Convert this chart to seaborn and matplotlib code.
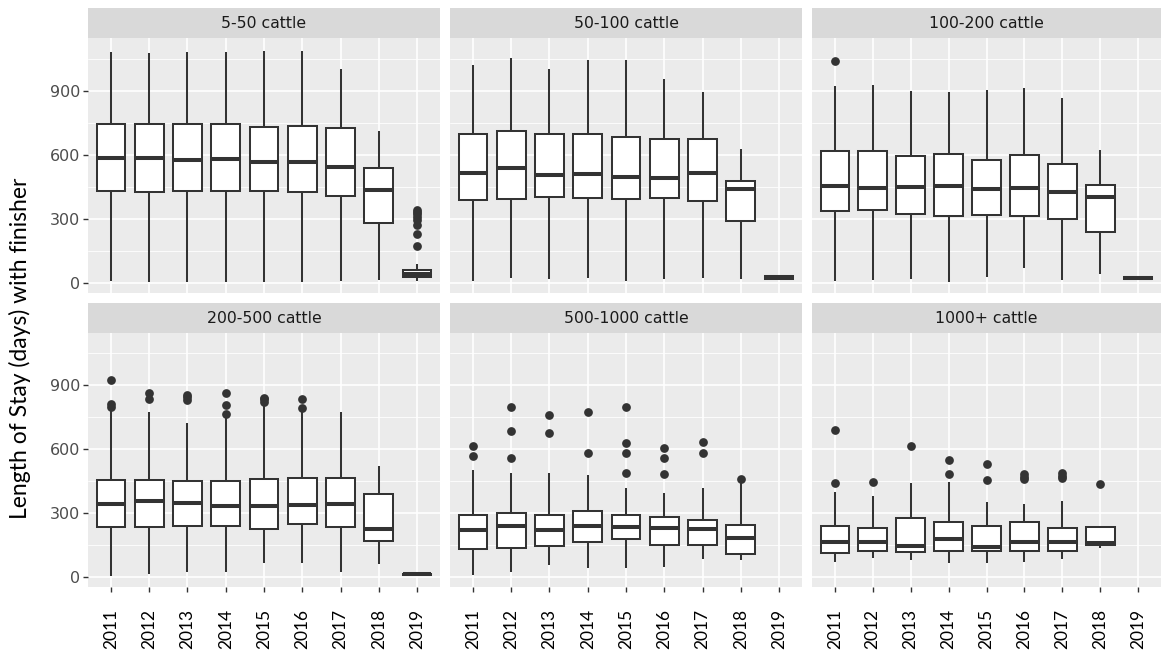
import numpy as np
import pandas as pd
import matplotlib
matplotlib.use("Agg")
import matplotlib.pyplot as plt
from matplotlib.patches import Rectangle
from matplotlib.ticker import FixedLocator
import seaborn as sns

years = ["2011", "2012", "2013", "2014", "2015", "2016", "2017", "2018", "2019"]
herds = ["5-50 cattle", "50-100 cattle", "100-200 cattle",
         "200-500 cattle", "500-1000 cattle", "1000+ cattle"]

# Box summaries per year: (lower whisker, Q1, median, Q3, upper whisker); None = no animals
stats_5_50 = [(11, 433, 585, 746, 1082), (8, 425, 585, 746, 1077), (8, 433, 576, 743, 1082),
              (8, 430, 581, 746, 1082), (8, 430, 568, 730, 1087), (8, 427, 568, 733, 1087),
              (11, 408, 543, 726, 1000), (16, 282, 436, 540, 712), (12, 28, 45, 62, 89)]
stats_50_100 = [(12, 389, 517, 698, 1020), (26, 395, 537, 710, 1054), (22, 403, 506, 699, 1000),
                (26, 397, 512, 698, 1043), (12, 394, 495, 682, 1042), (22, 397, 494, 673, 953),
                (26, 386, 514, 673, 894), (19, 291, 439, 478, 627), (20, 22, 28, 33, 36)]
stats_100_200 = [(12, 338, 456, 617, 922), (17, 343, 445, 617, 926), (22, 322, 448, 593, 900),
                 (8, 315, 455, 603, 894), (30, 319, 439, 578, 903), (73, 316, 447, 601, 912),
                 (16, 300, 427, 557, 867), (44, 238, 405, 459, 621), (20, 22, 26, 30, 32)]
stats_200_500 = [(6, 234, 345, 457, 790), (14, 236, 357, 459, 775), (23, 242, 349, 452, 722),
                 (23, 242, 334, 451, 762), (67, 229, 334, 462, 815), (67, 250, 339, 465, 780),
                 (27, 236, 346, 468, 775), (62, 172, 229, 393, 523), (10, 12, 14, 16, 18)]
stats_500_1000 = [(11, 133, 223, 292, 502), (23, 136, 242, 303, 490), (59, 148, 222, 292, 490),
                  (42, 164, 239, 312, 482), (45, 179, 234, 292, 421), (50, 151, 231, 281, 398),
                  (84, 153, 229, 271, 418), (81, 108, 183, 246, 445), None]
stats_1000_plus = [(73, 114, 167, 242, 401), (89, 122, 167, 232, 382), (81, 117, 148, 279, 443),
                   (67, 123, 178, 261, 448), (67, 122, 144, 240, 354), (70, 125, 164, 259, 345),
                   (86, 125, 164, 232, 357), (140, 151, 161, 234, 234), None]

# Outlying stays per year
out_5_50 = {"2019": [175, 230, 272, 296, 310, 322, 333, 342]}
out_50_100 = {}
out_100_200 = {"2011": [1039]}
out_200_500 = {"2011": [800, 812, 925], "2012": [838, 867], "2013": [831, 845, 856],
               "2014": [768, 810, 867], "2015": [824, 835, 841], "2016": [794, 838]}
out_500_1000 = {"2011": [569, 616], "2012": [560, 686, 799], "2013": [679, 763],
                "2014": [585, 774], "2015": [488, 585, 632, 800], "2016": [484, 560, 605],
                "2017": [585, 636], "2018": [460]}
out_1000_plus = {"2011": [443, 691], "2012": [449], "2013": [616], "2014": [484, 549],
                 "2015": [456, 530], "2016": [460, 473, 487], "2017": [465, 476, 488],
                 "2018": [438]}

all_stats = [stats_5_50, stats_50_100, stats_100_200, stats_200_500, stats_500_1000, stats_1000_plus]
all_out = [out_5_50, out_50_100, out_100_200, out_200_500, out_500_1000, out_1000_plus]

rows = []
for herd, stats, outs in zip(herds, all_stats, all_out):
    for yr, s in zip(years, stats):
        if s is None:
            continue
        for v in s:
            rows.append((herd, yr, v, "box"))
    for yr, vals in outs.items():
        for v in vals:
            rows.append((herd, yr, v, "outlier"))
df = pd.DataFrame(rows, columns=["herd", "year", "days", "kind"])

INK = "#333333"
PANEL = "#EBEBEB"
STRIP = "#D9D9D9"

sns.set_theme(style="whitegrid", rc={"axes.facecolor": PANEL, "grid.color": "white",
                                     "axes.edgecolor": PANEL, "figure.facecolor": "white"})
plt.rcParams["font.family"] = ["DejaVu Sans"]


def draw(data, **kws):
    ax = plt.gca()
    box = data[data["kind"] == "box"]
    pts = data[data["kind"] == "outlier"]
    sns.boxplot(data=box, x="year", y="days", order=years, whis=(0, 100), width=0.75,
                color="white", linecolor=INK, linewidth=1.45, showcaps=False,
                medianprops=dict(linewidth=2.9, color=INK), saturation=1, ax=ax)
    if len(pts):
        sns.stripplot(data=pts, x="year", y="days", order=years, jitter=False,
                      color=INK, size=6.3, linewidth=0, ax=ax)


g = sns.FacetGrid(df, col="herd", col_order=herds, col_wrap=3, sharex=True, sharey=True,
                  height=3, aspect=1.2, despine=False)
g.map_dataframe(draw)
g.set_titles("")
g.set_axis_labels("", "")

fig = g.figure
fig.set_size_inches(11.61, 6.53)
W, H = 1161, 653
col_x = [(88, 440), (450, 802), (812, 1161)]
row_y = [(38, 293), (333, 587)]
strip_h = 30

for i, ax in enumerate(g.axes.flat):
    r, c = divmod(i, 3)
    x0, x1 = col_x[c]
    y0, y1 = row_y[r]
    ax.set_position([x0 / W, 1 - y1 / H, (x1 - x0) / W, (y1 - y0) / H])
    ax.set_xlim(-0.6, 8.6)
    ax.set_ylim(-45, 1146)
    ax.set_facecolor(PANEL)
    for sp in ax.spines.values():
        sp.set_visible(False)
    ax.yaxis.set_major_locator(FixedLocator([0, 300, 600, 900]))
    ax.yaxis.set_minor_locator(FixedLocator([150, 450, 750, 1050]))
    ax.set_axisbelow(True)
    ax.grid(True, which="major", axis="both", color="white", linewidth=1.2)
    ax.grid(True, which="minor", axis="y", color="white", linewidth=0.6)
    ax.tick_params(which="minor", length=0)
    ax.set_xlabel("")
    ax.set_ylabel("")

    # facet strip
    hfrac = strip_h / (y1 - y0)
    ax.add_patch(Rectangle((0, 1), 1, hfrac, transform=ax.transAxes, clip_on=False,
                           facecolor=STRIP, edgecolor="none", zorder=5))
    ax.text(0.5, 1 + hfrac / 2, herds[i], transform=ax.transAxes, ha="center", va="center",
            fontsize=11.3, color="#1A1A1A", zorder=6)

    if c == 0:
        ax.tick_params(axis="y", which="major", left=True, length=3.5, width=1.0, color=INK,
                       labelleft=True, labelsize=11.5, labelcolor="#4D4D4D", pad=2)
    else:
        ax.tick_params(axis="y", which="major", left=False, labelleft=False)

    if r == 1:
        ax.set_xticks(range(len(years)))
        ax.set_xticklabels(years, rotation=90, fontsize=12.5, family="Lato", color="black")
        ax.tick_params(axis="x", which="major", bottom=True, length=3.5, width=1.0, color=INK,
                       labelbottom=True, pad=12)
    else:
        ax.tick_params(axis="x", which="major", bottom=False, labelbottom=False)

fig.text(20 / W, 1 - 348 / H, "Length of Stay (days) with finisher", rotation=90,
         ha="center", va="center", fontsize=16.5, family="Lato", color="black")

fig.savefig("out.png", dpi=100)
